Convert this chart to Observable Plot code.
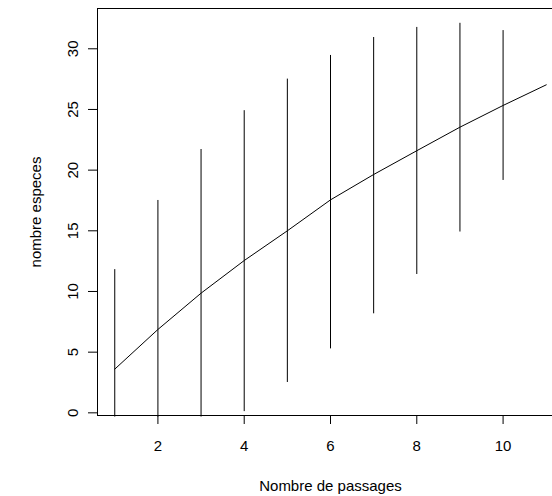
<!DOCTYPE html>
<html>
<head>
<meta charset="utf-8">
<script src="https://cdn.jsdelivr.net/npm/d3@7"></script>
<script src="https://cdn.jsdelivr.net/npm/@observablehq/plot@0.6"></script>
<style>
  html, body { margin: 0; padding: 0; background: #fff; overflow: hidden; width: 552px; height: 496px; }
  #chart { width: 552px; height: 496px; overflow: hidden; }
  #chart svg { display: block; max-width: none !important; width: 563px !important; height: 496px !important; }
</style>
</head>
<body>
<div id="chart"></div>
<script>
// Data
const passages = [1, 2, 3, 4, 5, 6, 7, 8, 9, 10, 11];
const richesse = [3.6, 6.87, 9.86, 12.55, 15.0, 17.55, 19.64, 21.6, 23.54, 25.33, 27.03];
const barX = [1, 2, 3, 4, 5, 6, 7, 8, 9, 10];
const barLow = [-0.35, -0.35, -0.35, 0.1, 2.5, 5.27, 8.16, 11.4, 14.9, 19.15];
const barHigh = [11.8, 17.5, 21.7, 24.9, 27.5, 29.45, 30.93, 31.76, 32.1, 31.5];
const xTicks = [2, 4, 6, 8, 10];
const yTicks = [0, 5, 10, 15, 20, 25, 30];
const xLabel = "Nombre de passages";
const yLabel = "nombre especes";

const curve = passages.map((p, i) => ({x: p, y: richesse[i]}));
const bars = barX.map((p, i) => ({x: p, lo: barLow[i], hi: barHigh[i]}));

const font = "'Liberation Sans', Arial, Helvetica, sans-serif";

const chart = Plot.plot({
  width: 563,
  height: 496,
  marginLeft: 97,
  marginRight: 0,
  marginTop: 8,
  marginBottom: 81,
  style: {fontFamily: font, fontSize: "15px", color: "#000", background: "#fff"},
  x: {domain: [0.6, 11.4]},
  y: {domain: [-0.22, 33.32]},
  marks: [
    Plot.ruleX(bars, {x: "x", y1: "lo", y2: "hi", stroke: "#000", strokeWidth: 1}),
    Plot.line(curve, {x: "x", y: "y", stroke: "#000", strokeWidth: 1}),
    Plot.frame({stroke: "#000", strokeWidth: 1}),
    Plot.axisX({ticks: xTicks, tickSize: 9, tickPadding: 16, label: null, fontSize: 15, tickFormat: d => String(d)}),
    Plot.axisY({ticks: yTicks, tickSize: 9, tickPadding: 11, tickRotate: -90, label: null, fontSize: 15, tickFormat: d => String(d)}),
    Plot.text([xLabel], {text: d => d, frameAnchor: "bottom", lineAnchor: "bottom", textAnchor: "middle", dy: 75.5, fontSize: 15}),
    Plot.text([yLabel], {text: d => d, frameAnchor: "left", lineAnchor: "bottom", textAnchor: "middle", rotate: -90, dx: -57, fontSize: 15})
  ]
});
document.getElementById("chart").appendChild(chart);
</script>
</body>
</html>
